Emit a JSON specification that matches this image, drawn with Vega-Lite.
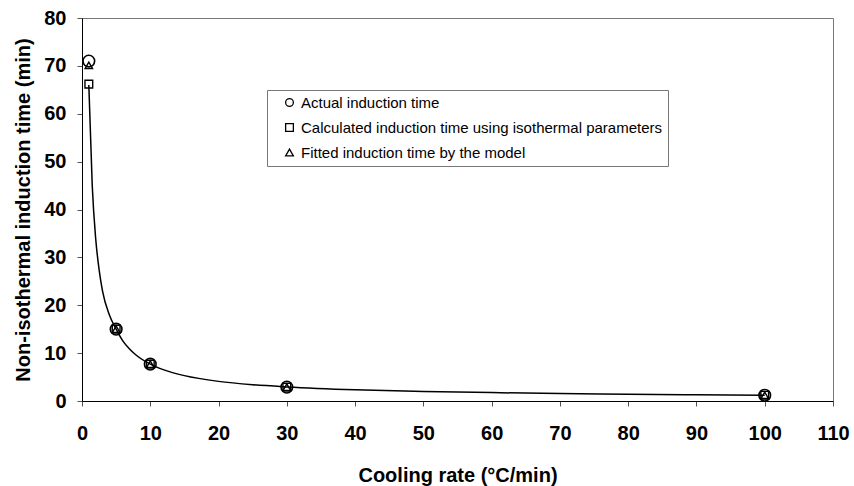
{
  "$schema": "https://vega.github.io/schema/vega-lite/v6.json",
  "width": 751,
  "height": 383,
  "autosize": "none",
  "padding": {"left": 82, "top": 18, "right": 21, "bottom": 85},
  "background": "white",
  "config": {
    "view": {"stroke": "#777", "strokeWidth": 1},
    "font": "Liberation Sans"
  },
  "datasets": {
    "curve": [
      {"rate": 1, "time": 66}, {"rate": 1.5, "time": 45}, {"rate": 2, "time": 34},
      {"rate": 2.5, "time": 27.5}, {"rate": 3, "time": 23}, {"rate": 4, "time": 18},
      {"rate": 5, "time": 15}, {"rate": 6, "time": 12.5}, {"rate": 7, "time": 10.8},
      {"rate": 8, "time": 9.5}, {"rate": 10, "time": 7.7}, {"rate": 12, "time": 6.5},
      {"rate": 15, "time": 5.3}, {"rate": 20, "time": 4.1}, {"rate": 25, "time": 3.4},
      {"rate": 30, "time": 2.95}, {"rate": 40, "time": 2.35}, {"rate": 50, "time": 2.0},
      {"rate": 60, "time": 1.75}, {"rate": 70, "time": 1.55}, {"rate": 80, "time": 1.42},
      {"rate": 90, "time": 1.3}, {"rate": 100, "time": 1.2}
    ],
    "points": [
      {"rate": 1, "time": 71, "series": "Actual induction time"},
      {"rate": 5, "time": 15, "series": "Actual induction time"},
      {"rate": 10, "time": 7.7, "series": "Actual induction time"},
      {"rate": 30, "time": 2.9, "series": "Actual induction time"},
      {"rate": 100, "time": 1.2, "series": "Actual induction time"},
      {"rate": 1, "time": 66.2, "series": "Calculated induction time using isothermal parameters"},
      {"rate": 5, "time": 15, "series": "Calculated induction time using isothermal parameters"},
      {"rate": 10, "time": 7.7, "series": "Calculated induction time using isothermal parameters"},
      {"rate": 30, "time": 2.9, "series": "Calculated induction time using isothermal parameters"},
      {"rate": 100, "time": 1.2, "series": "Calculated induction time using isothermal parameters"},
      {"rate": 1, "time": 70.1, "series": "Fitted induction time by the model"},
      {"rate": 5, "time": 15, "series": "Fitted induction time by the model"},
      {"rate": 10, "time": 7.7, "series": "Fitted induction time by the model"},
      {"rate": 30, "time": 2.9, "series": "Fitted induction time by the model"},
      {"rate": 100, "time": 1.2, "series": "Fitted induction time by the model"}
    ]
  },
  "encoding": {
    "x": {
      "field": "rate", "type": "quantitative",
      "scale": {"domain": [0, 110], "nice": false, "zero": false},
      "axis": {
        "title": "Cooling rate (°C/min)",
        "values": [0, 10, 20, 30, 40, 50, 60, 70, 80, 90, 100, 110],
        "grid": false,
        "domainColor": "black", "tickColor": "#555", "tickSize": 5,
        "labelFont": "Liberation Sans", "labelFontSize": 20, "labelFontWeight": "bold", "labelColor": "black",
        "labelPadding": 17, "labelFlush": false, "labelOverlap": false,
        "titleFont": "Liberation Sans", "titleFontSize": 20, "titleFontWeight": "bold", "titleColor": "black",
        "titlePadding": 22
      }
    },
    "y": {
      "field": "time", "type": "quantitative",
      "scale": {"domain": [0, 80], "nice": false},
      "axis": {
        "title": "Non-isothermal induction time (min)",
        "values": [0, 10, 20, 30, 40, 50, 60, 70, 80],
        "grid": false,
        "domainColor": "black", "tickColor": "#555", "tickSize": 5,
        "labelFont": "Liberation Sans", "labelFontSize": 20, "labelFontWeight": "bold", "labelColor": "black",
        "labelPadding": 11, "labelFlush": false, "labelOverlap": false,
        "titleFont": "Liberation Sans", "titleFontSize": 20, "titleFontWeight": "bold", "titleColor": "black",
        "titlePadding": 10
      }
    }
  },
  "layer": [
    {
      "data": {"name": "curve"},
      "mark": {"type": "line", "color": "black", "strokeWidth": 1.5, "interpolate": "monotone"},
      "encoding": {}
    },
    {
      "data": {"name": "points"},
      "transform": [{"filter": "datum.series === 'Actual induction time'"}],
      "mark": {"type": "point", "filled": false, "stroke": "black", "strokeWidth": 1.6, "opacity": 1, "size": 135},
      "encoding": {
        "shape": {
          "field": "series", "type": "nominal",
          "scale": {
            "domain": ["Actual induction time", "Calculated induction time using isothermal parameters", "Fitted induction time by the model"],
            "range": ["circle", "square", "triangle-up"]
          },
          "legend": {
            "title": null,
            "orient": "none",
            "legendX": 185,
            "legendY": 72,
            "padding": 5,
            "strokeColor": "#777",
            "fillColor": "white",
            "symbolSize": 60,
            "symbolStrokeColor": "black",
            "symbolFillColor": "transparent",
            "symbolStrokeWidth": 1.3,
            "symbolOffset": 10,
            "labelOffset": 4,
            "labelFont": "Liberation Sans",
            "labelFontSize": 15,
            "labelColor": "black",
            "labelLimit": 500,
            "rowPadding": 9
          }
        }
      }
    },
    {
      "data": {"name": "points"},
      "transform": [{"filter": "datum.series === 'Calculated induction time using isothermal parameters'"}],
      "mark": {"type": "point", "filled": false, "stroke": "black", "strokeWidth": 1.4, "opacity": 1, "size": 60},
      "encoding": {
        "shape": {"field": "series", "type": "nominal"}
      }
    },
    {
      "data": {"name": "points"},
      "transform": [{"filter": "datum.series === 'Fitted induction time by the model'"}],
      "mark": {"type": "point", "filled": false, "stroke": "black", "strokeWidth": 1.4, "opacity": 1, "size": 55},
      "encoding": {
        "shape": {"field": "series", "type": "nominal"}
      }
    }
  ]
}
